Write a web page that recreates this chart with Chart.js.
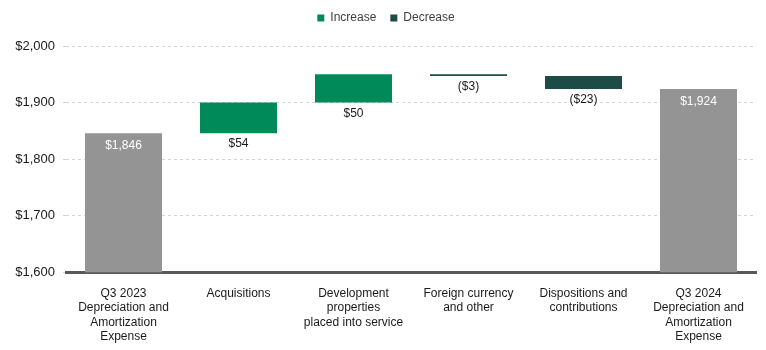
<!DOCTYPE html>
<html>
<head>
<meta charset="utf-8">
<script src="https://cdn.jsdelivr.net/npm/chart.js@4.4.1/dist/chart.umd.min.js"></script>
<style>
  html, body { margin: 0; padding: 0; background: #fff; }
  #wrap { width: 766px; height: 350px; }
</style>
</head>
<body>
<div id="wrap"><canvas id="myChart" width="766" height="350"></canvas></div>
<script>
const categories = [
  ['Q3 2023', 'Depreciation and', 'Amortization', 'Expense'],
  ['Acquisitions'],
  ['Development', 'properties', 'placed into service'],
  ['Foreign currency', 'and other'],
  ['Dispositions and', 'contributions'],
  ['Q3 2024', 'Depreciation and', 'Amortization', 'Expense']
]
const startValue = 1846
const changes = [54, 50, -3, -23]
const endValue = 1924
const yTicks = [1600, 1700, 1800, 1900, 2000]

const green = '#008a5a'
const teal = '#1d4b45'
const gray = '#949494'
const regular = '"Liberation Sans", Arial, sans-serif'

// build the floating bars for the waterfall
let totals = [[1600, startValue], null, null, null, null, [1600, endValue]]
let ups = [null, null, null, null, null, null]
let downs = [null, null, null, null, null, null]
let running = startValue
changes.forEach((c, i) => {
  let next = running + c
  if (c >= 0) ups[i + 1] = [running, next]
  else downs[i + 1] = [next, running]
  running = next
})

const money = v => '$' + v.toLocaleString('en-US')

const barLabels = {
  id: 'barLabels',
  beforeLayout(chart) {
    // extra room under the legend, and nudge it a bit right
    const lg = chart.legend
    if (lg && !lg._padded) {
      const fit = lg.fit
      lg.fit = function () { fit.call(this); this.height += 10 }
      const draw = lg.draw
      lg.draw = function () {
        this.ctx.save()
        this.ctx.translate(8, -2)
        draw.call(this)
        this.ctx.restore()
      }
      lg._padded = true
    }
  },
  afterDatasetsDraw(chart) {
    const c = chart.ctx
    c.save()
    c.font = '12px ' + regular
    c.textAlign = 'center'
    c.textBaseline = 'middle'
    chart.data.datasets.forEach((ds, di) => {
      const meta = chart.getDatasetMeta(di)
      meta.data.forEach((bar, i) => {
        const v = ds.data[i]
        if (!v) return
        if (di === 0) {
          c.fillStyle = '#ffffff'
          c.fillText(money(v[1]), bar.x, bar.y + 13)
        } else {
          const bottom = Math.max(bar.y, bar.base)
          c.fillStyle = '#1a1a1a'
          const txt = di === 1 ? money(changes[i - 1]) : '($' + Math.abs(changes[i - 1]) + ')'
          c.fillText(txt, bar.x, bottom + 11)
        }
      })
    })
    c.restore()
  }
}

const ctx = document.getElementById('myChart')
let chart_1 = new Chart(ctx, {
  type: 'bar',
  data: {
    labels: categories,
    datasets: [
      { label: 'Total', data: totals, backgroundColor: gray },
      { label: 'Increase', data: ups, backgroundColor: green },
      { label: 'Decrease', data: downs, backgroundColor: teal }
    ]
  },
  options: {
    responsive: false,
    animation: false,
    barPercentage: 0.67,
    categoryPercentage: 1,
    layout: { padding: { left: 0, right: 10, top: 0, bottom: 0 } },
    plugins: {
      legend: {
        position: 'top',
        labels: {
          filter: item => item.text !== 'Total',
          boxWidth: 7,
          boxHeight: 7,
          padding: 14,
          color: '#404040',
          font: { family: regular, size: 12 }
        }
      },
      tooltip: { enabled: false }
    },
    scales: {
      x: {
        stacked: true,
        grid: { display: false },
        border: { color: '#595959', width: 3 },
        ticks: {
          color: '#1a1a1a',
          maxRotation: 0,
          autoSkip: false,
          padding: 6,
          font: { family: regular, size: 12, lineHeight: 1.2 }
        }
      },
      y: {
        stacked: false,
        min: 1600,
        max: 2000,
        afterBuildTicks: axis => { axis.ticks = yTicks.map(v => ({ value: v })) },
        afterFit: axis => { axis.width = 66 },
        border: { display: false, dash: [3, 3] },
        grid: { color: '#d4d4d4', tickLength: 3 },
        ticks: {
          color: '#1a1a1a',
          padding: 8,
          font: { family: regular, size: 13 },
          callback: v => money(v)
        }
      }
    }
  },
  plugins: [barLabels]
})
</script>
</body>
</html>
